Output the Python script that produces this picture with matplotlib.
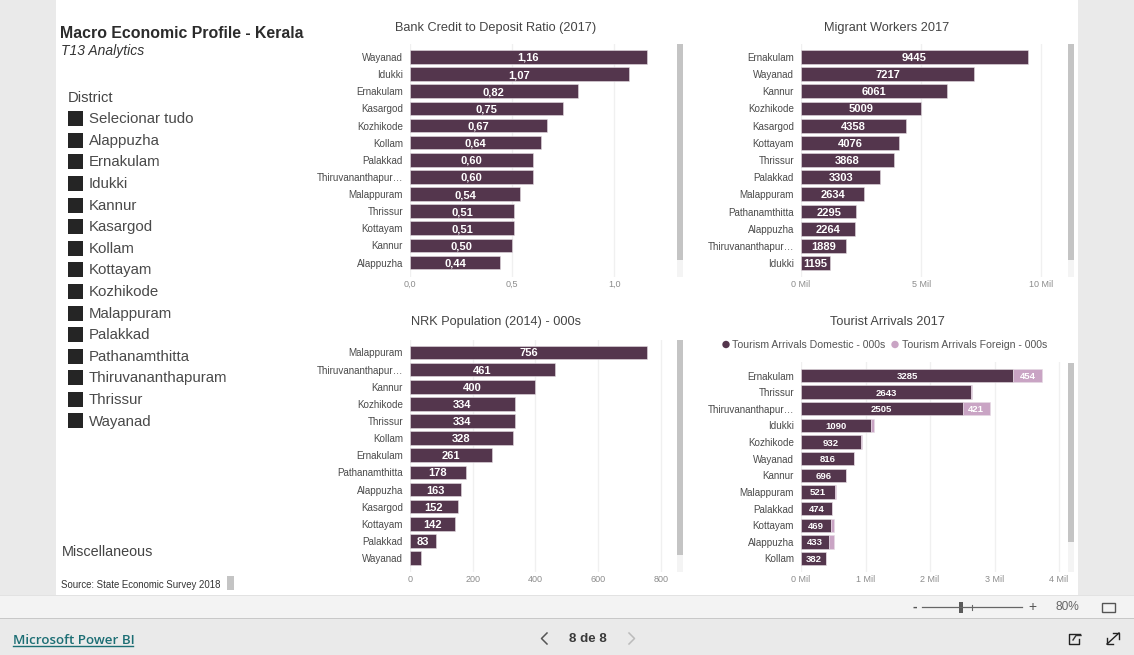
import matplotlib
matplotlib.use("Agg")
import matplotlib.pyplot as plt
from matplotlib.patches import Circle, Rectangle

plt.rcParams["font.family"] = ["Liberation Sans", "DejaVu Sans"]

W, H = 1134, 655
PLUM = "#54364D"
PINK = "#C9A4C4"
GRID = "#F0F0F0"
TXT = "#4A4A4A"
AXIS_TXT = "#8C8C8C"

credit_names = ["Wayanad", "Idukki", "Ernakulam", "Kasargod", "Kozhikode", "Kollam", "Palakkad",
                "Thiruvananthapur…", "Malappuram", "Thrissur", "Kottayam", "Kannur", "Alappuzha"]
credit_vals = [1.16, 1.07, 0.82, 0.75, 0.67, 0.64, 0.60, 0.60, 0.54, 0.51, 0.51, 0.50, 0.44]
credit_ticks = [0, 0.5, 1.0]
credit_ticklabels = ["0,0", "0,5", "1,0"]

migrant_names = ["Ernakulam", "Wayanad", "Kannur", "Kozhikode", "Kasargod", "Kottayam", "Thrissur",
                 "Palakkad", "Malappuram", "Pathanamthitta", "Alappuzha", "Thiruvananthapur…", "Idukki"]
migrant_vals = [9445, 7217, 6061, 5009, 4358, 4076, 3868, 3303, 2634, 2295, 2264, 1889, 1195]
migrant_ticks = [0, 5000, 10000]
migrant_ticklabels = ["0 Mil", "5 Mil", "10 Mil"]

nrk_names = ["Malappuram", "Thiruvananthapur…", "Kannur", "Kozhikode", "Thrissur", "Kollam", "Ernakulam",
             "Pathanamthitta", "Alappuzha", "Kasargod", "Kottayam", "Palakkad", "Wayanad"]
nrk_vals = [756, 461, 400, 334, 334, 328, 261, 178, 163, 152, 142, 83, 36]
nrk_ticks = [0, 200, 400, 600, 800]

tourist_names = ["Ernakulam", "Thrissur", "Thiruvananthapur…", "Idukki", "Kozhikode", "Wayanad",
                 "Kannur", "Malappuram", "Palakkad", "Kottayam", "Alappuzha", "Kollam"]
tourist_domestic = [3285, 2643, 2505, 1090, 932, 816, 696, 521, 474, 469, 433, 382]
tourist_foreign = [454, 5, 421, 45, 8, 9, 3, 17, 3, 38, 77, 5]
tourist_ticks = [0, 1000, 2000, 3000, 4000]
tourist_ticklabels = ["0 Mil", "1 Mil", "2 Mil", "3 Mil", "4 Mil"]

districts = ["Selecionar tudo", "Alappuzha", "Ernakulam", "Idukki", "Kannur", "Kasargod", "Kollam", "Kottayam",
             "Kozhikode", "Malappuram", "Palakkad", "Pathanamthitta", "Thiruvananthapuram", "Thrissur", "Wayanad"]


def px_axes(fig, left, top, right, bottom):
    ax = fig.add_axes([left / W, 1 - bottom / H, (right - left) / W, (bottom - top) / H])
    ax.patch.set_alpha(0)
    for s in ax.spines.values():
        s.set_visible(False)
    return ax


def bar_panel(fig, names, box, first_y, last_y, zero_px, px_per_unit, ticks, ticklabels,
              vals, fmt, label_size, min_label):
    left, top, right, bottom = box
    ax = px_axes(fig, zero_px, top, right, bottom)
    step = (last_y - first_y) / (len(names) - 1)
    pos = list(range(len(names)))
    ax.barh(pos, vals, height=0.8, color=PLUM, edgecolor="#E4DCE2", linewidth=0.4, zorder=3)
    for p, v in zip(pos, vals):
        if v >= min_label:
            ax.text(v / 2, p, fmt(v), color="white", fontsize=label_size, fontweight="bold",
                    ha="center", va="center_baseline", zorder=5)
    ax.set_xlim(0, (right - zero_px) / px_per_unit)
    ax.set_ylim((bottom - first_y) / step, (top - first_y) / step)
    ax.set_yticks(pos, names)
    ax.set_xticks(ticks, ticklabels)
    ax.tick_params(axis="y", length=0, pad=5, labelsize=7.1, labelcolor=TXT)
    ax.tick_params(axis="x", length=0, pad=2.2, labelsize=6.5, labelcolor=AXIS_TXT)
    ax.grid(axis="x", color=GRID, linewidth=1, zorder=0)
    ax.set_axisbelow(True)
    return ax


fig = plt.figure(figsize=(W / 100, H / 100), dpi=100, facecolor="#EAEAEA")

# page chrome, drawn in pixel coords
bg = fig.add_axes([0, 0, 1, 1], zorder=-1)
bg.set_xlim(0, W)
bg.set_ylim(H, 0)
bg.axis("off")
bg.add_patch(Rectangle((56, 0), 1022, 595, color="white", lw=0))
bg.add_patch(Rectangle((0, 595), W, 1.5, color="#E2E2E2", lw=0))
bg.add_patch(Rectangle((0, 596), W, 22, color="#F3F3F3", lw=0))
bg.add_patch(Rectangle((0, 617.5), W, 1.5, color="#C8C8C8", lw=0))

bg.text(60, 33, "Macro Economic Profile - Kerala", fontsize=11.4, fontweight="bold", color="#2B2B2B", va="center")
bg.text(61, 51, "T13 Analytics", fontsize=10, style="italic", color="#333333", va="center")
bg.text(68, 97.5, "District", fontsize=10.6, color="#444444", va="center")
for i, name in enumerate(districts):
    y = 118.7 + i * 21.59
    bg.add_patch(Rectangle((68, y - 7.5), 14.5, 15, color="#252525", lw=0))
    bg.text(89, y + 0.6, name, fontsize=10.8, color="#4A4A4A", va="center")
bg.text(62, 552.5, "Miscellaneous", fontsize=10.4, color="#444444", va="center")
bg.text(61, 584.5, "Source: State Economic Survey 2018", fontsize=6.9, color="#333333", va="center")
bg.add_patch(Rectangle((227, 576), 6.5, 14, color="#C4C4C4", lw=0))

# scroll bars: (x, top, thumb bottom, track bottom)
for x, top, thumb, end in [(677, 44, 260, 277), (1068, 44, 260, 277), (677, 340, 555, 572), (1068, 363, 542, 572)]:
    bg.add_patch(Rectangle((x, top), 6, end - top, color="#F4F4F4", lw=0))
    bg.add_patch(Rectangle((x, top), 6, thumb - top, color="#C4C4C4", lw=0))

for cx, y, title in [(496, 28, "Bank Credit to Deposit Ratio (2017)"), (887, 28, "Migrant Workers 2017"),
                     (496, 322, "NRK Population (2014) - 000s"), (887, 322, "Tourist Arrivals 2017")]:
    bg.text(cx, y, title, fontsize=9.2, color="#444444", ha="center", va="center")

bg.add_patch(Circle((726, 344.5), 3.7, color=PLUM, lw=0))
bg.text(732, 345, "Tourism Arrivals Domestic - 000s", fontsize=7.6, color="#555555", va="center")
bg.add_patch(Circle((895, 344.5), 3.7, color=PINK, lw=0))
bg.text(902, 345, "Tourism Arrivals Foreign - 000s", fontsize=7.6, color="#555555", va="center")

# zoom bar
bg.text(915, 607, "-", fontsize=10, fontweight="bold", color="#555555", ha="center", va="center")
bg.plot([922, 1022], [607, 607], color="#666666", lw=0.9)
bg.plot([972, 972], [604.5, 609.5], color="#666666", lw=0.8)
bg.add_patch(Rectangle((959, 602), 4, 11, color="#5A5A5A", lw=0))
bg.text(1032, 607, "+", fontsize=10, color="#555555", ha="center", va="center")
bg.text(1067, 607, "80%", fontsize=8.6, color="#666666", ha="center", va="center")
bg.add_patch(Rectangle((1101.5, 602.5), 13, 9, fill=False, ec="#555555", lw=1))

# footer
bg.text(13, 640, "Microsoft Power BI", fontsize=9.6, fontweight=600, color="#1C6E74", va="center",
        family=["Open Sans", "DejaVu Sans"])
bg.plot([13, 133], [645.5, 645.5], color="#1C6E74", lw=1)
bg.plot([547, 541.5, 547], [633, 638.5, 644], color="#555555", lw=1.1)
bg.text(588, 638.5, "8 de 8", fontsize=9.6, fontweight="bold", color="#3A3A3A", ha="center", va="center")
bg.plot([629, 634.5, 629], [633, 638.5, 644], color="#BBBBBB", lw=1.1)
bg.plot([1080, 1069, 1069, 1079, 1079], [633.5, 633.5, 643.5, 643.5, 639], color="#222222", lw=1)
bg.plot([1073, 1076, 1081], [640, 635.5, 635.5], color="#333333", lw=1)
bg.plot([1107, 1119], [644, 633], color="#222222", lw=1)
bg.plot([1113, 1119, 1119], [633, 633, 639], color="#222222", lw=1)
bg.plot([1107, 1107, 1113], [638, 644, 644], color="#222222", lw=1)

bar_panel(fig, credit_names, (410, 44, 675, 277), 57, 262.5, 410, 204.3, credit_ticks, credit_ticklabels,
          credit_vals, lambda v: f"{v:.2f}".replace(".", ","), 8, 0)
bar_panel(fig, migrant_names, (801, 44, 1065, 277), 57, 263, 801, 0.02403, migrant_ticks, migrant_ticklabels,
          migrant_vals, str, 8, 0)
bar_panel(fig, nrk_names, (410, 340, 675, 572), 352.5, 558, 410, 0.3135, nrk_ticks, [str(t) for t in nrk_ticks],
          nrk_vals, str, 8, 50)

ax = bar_panel(fig, tourist_names, (801, 362, 1065, 572), 375.5, 558.5, 801, 0.0645, tourist_ticks,
               tourist_ticklabels, tourist_domestic, str, 6.8, 0)
ax.barh(range(len(tourist_names)), tourist_foreign, left=tourist_domestic, height=0.8, color=PINK,
        edgecolor="#E6DAE3", linewidth=0.4, zorder=3)
for i, (d, f) in enumerate(zip(tourist_domestic, tourist_foreign)):
    if f > 100:
        ax.text(d + f / 2, i, str(f), color="white", fontsize=6.8, fontweight="bold",
                ha="center", va="center_baseline", zorder=5)

fig.savefig("out.png", dpi=100, facecolor=fig.get_facecolor())
